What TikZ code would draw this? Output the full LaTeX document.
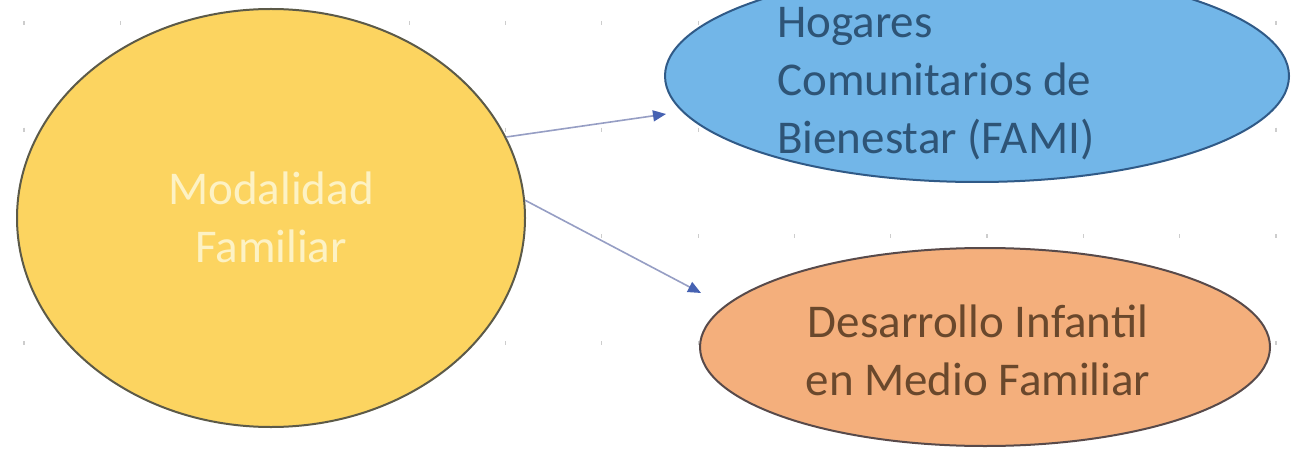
\documentclass[tikz,border=0pt]{standalone}
\usepackage{fontspec}
\setmainfont{Carlito}
\usetikzlibrary{shapes.geometric,arrows.meta}
\definecolor{yfill}{RGB}{252,212,96}
\definecolor{yline}{RGB}{92,90,72}
\definecolor{ytext}{RGB}{253,242,196}
\definecolor{bfill}{RGB}{114,182,232}
\definecolor{bline}{RGB}{48,90,135}
\definecolor{btext}{RGB}{46,84,118}
\definecolor{ofill}{RGB}{244,175,124}
\definecolor{oline}{RGB}{88,74,74}
\definecolor{otext}{RGB}{106,72,44}
\definecolor{arrline}{RGB}{150,158,196}
\definecolor{arrhead}{RGB}{70,98,178}
\definecolor{tick}{RGB}{205,205,205}
\tikzset{
  bubble/.style={ellipse, inner sep=0pt, line width=2pt},
  lbl/.style={font=\fontsize{47}{58}\selectfont, inner sep=0pt},
  link/.style={draw=arrline, line width=1.6pt,
    -{Triangle[length=13pt,width=11pt,color=arrhead]}, shorten >=0pt},
}
\begin{document}
\begin{tikzpicture}[x=1pt,y=-1pt]
\useasboundingbox (0,0) rectangle (1297,449);
\clip (0,0) rectangle (1297,449);
\fill[white] (0,0) rectangle (1297,449);
% faint grid ticks
\foreach \i in {0,...,13}{
  \foreach \j in {0,...,3}{
    \draw[tick, line width=1.2pt] ({24+96.3*\i},{21+106.7*\j}) -- ++(0,4);
  }
}
% ellipses
\node[bubble, draw=yline, fill=yfill, minimum width=508pt, minimum height=418pt] (fam) at (271,218) {};
\node[bubble, draw=bline, fill=bfill, minimum width=624pt, minimum height=212pt] (hog) at (977,76) {};
\node[bubble, draw=oline, fill=ofill, minimum width=570pt, minimum height=198pt] (dim) at (985,347) {};
% texts
\node[lbl, text=ytext, align=center] (famtxt) at (271,217) {Modalidad\\Familiar};
\node[lbl, text=btext, align=left, anchor=west] (hogtxt) at (777,84) {Hogares\\Comunitarios de\\Bienestar (FAMI)};
\node[lbl, text=otext, align=center] (dimtxt) at (978,350) {Desarrollo Infantil\\en Medio Familiar};
% connectors
\coordinate (t1) at (666,114);
\coordinate (t2) at (701,293);
\draw[link] (fam.19.7) -- (t1);
\draw[link] (fam.4.3) -- (t2);
\end{tikzpicture}
\end{document}
